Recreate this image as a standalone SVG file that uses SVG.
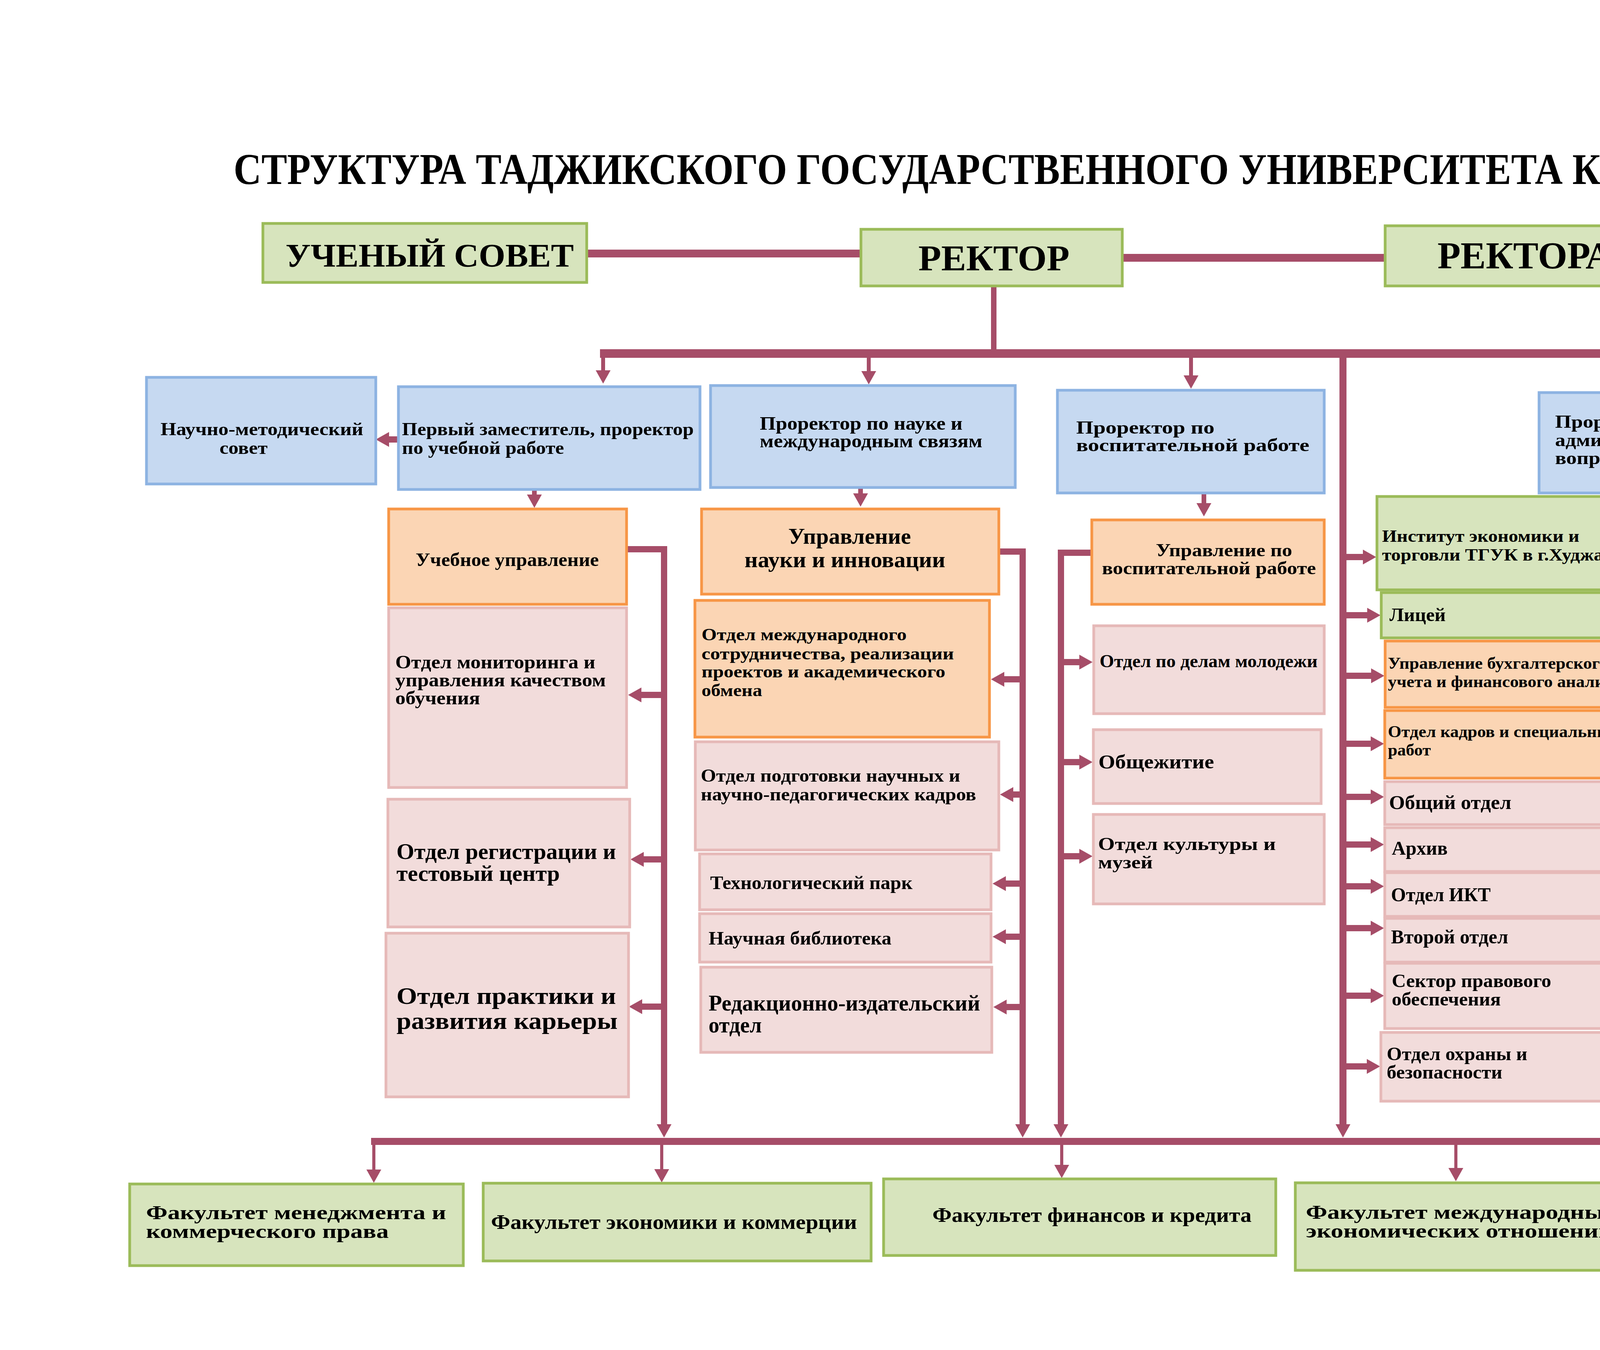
<svg xmlns="http://www.w3.org/2000/svg" width="5184" height="3456" viewBox="0 0 5184 3456">
<style>
.g{fill:#d7e4bd;stroke:#9bbb59;stroke-width:7}
.b{fill:#c6d9f1;stroke:#8db3e2;stroke-width:7}
.o{fill:#fbd5b4;stroke:#f79646;stroke-width:7}
.p{fill:#f2dcdb;stroke:#e6b9b8;stroke-width:7}
text{font-family:"Liberation Serif","Times New Roman",serif;font-weight:bold;fill:#000}
.c{stroke:#a64d68;fill:none}
.a{stroke:#a64d68;fill:none;marker-end:url(#h)}
</style>
<defs>
<marker id="h" markerUnits="userSpaceOnUse" viewBox="0 0 34 38" markerWidth="34" markerHeight="38" refX="0" refY="19" orient="auto"><path d="M0,0 L34,19 L0,38 z" fill="#a64d68"/></marker>
</defs>
<rect width="5184" height="3456" fill="#ffffff"/>
<text x="598" y="471" font-size="112" textLength="4115" lengthAdjust="spacingAndGlyphs">СТРУКТУРА ТАДЖИКСКОГО ГОСУДАРСТВЕННОГО УНИВЕРСИТЕТА КОММЕРЦИИ</text>

<g id="connectors">
<path class="c" stroke-width="20" d="M1502,649 H2204"/>
<path class="c" stroke-width="20" d="M2873,660 H3546"/>
<path class="c" stroke-width="14" d="M2544,732 V905"/>
<path class="c" stroke-width="22" d="M1536,905 H4434"/>
<path class="c" stroke-width="18" d="M950,2922 H4600"/>
<path class="a" stroke-width="10" d="M1544,905 V948"/>
<path class="a" stroke-width="10" d="M2224,905 V950"/>
<path class="a" stroke-width="10" d="M3049,905 V961"/>
<path class="a" stroke-width="10" d="M4427,905 V968"/>
<path class="a" stroke-width="18" d="M3438,905 V2878"/>
<path class="a" stroke-width="12" d="M1368,1253 V1266"/>
<path class="a" stroke-width="12" d="M2203,1248 V1263"/>
<path class="a" stroke-width="12" d="M3082,1262 V1288"/>
<path class="a" stroke-width="12" d="M4448,1262 V1292"/>
<path class="a" stroke-width="16" d="M1020,1125 H996"/>
<path class="a" stroke-width="16" d="M1604,1406 H1700 V2878"/>
<path class="a" stroke-width="16" d="M2557,1412 H2618 V2878"/>
<path class="a" stroke-width="16" d="M2795,1415 H2716 V2878"/>
<path class="a" stroke-width="16" d="M4330,1437 H4224 V2878"/>
<path class="a" stroke-width="16" d="M1700,1779 H1642"/>
<path class="a" stroke-width="16" d="M1700,2200 H1648"/>
<path class="a" stroke-width="16" d="M1700,2577 H1644"/>
<path class="a" stroke-width="16" d="M2618,1739 H2571"/>
<path class="a" stroke-width="16" d="M2618,2034 H2594"/>
<path class="a" stroke-width="16" d="M2618,2262 H2575"/>
<path class="a" stroke-width="16" d="M2618,2398 H2575"/>
<path class="a" stroke-width="16" d="M2618,2578 H2577"/>
<path class="a" stroke-width="16" d="M2716,1695 H2763"/>
<path class="a" stroke-width="16" d="M2716,1951 H2763"/>
<path class="a" stroke-width="16" d="M2716,2192 H2763"/>
<path class="a" stroke-width="16" d="M3438,1426 H3489"/>
<path class="a" stroke-width="16" d="M3438,1575 H3500"/>
<path class="a" stroke-width="16" d="M3438,1730 H3510"/>
<path class="a" stroke-width="16" d="M3438,1904 H3509"/>
<path class="a" stroke-width="16" d="M3438,2040 H3509"/>
<path class="a" stroke-width="16" d="M3438,2162 H3509"/>
<path class="a" stroke-width="16" d="M3438,2269 H3509"/>
<path class="a" stroke-width="16" d="M3438,2376 H3509"/>
<path class="a" stroke-width="16" d="M3438,2549 H3509"/>
<path class="a" stroke-width="16" d="M3438,2730 H3499"/>
<path class="a" stroke-width="16" d="M4224,1814 H4292"/>
<path class="a" stroke-width="16" d="M4224,2167 H4291"/>
<path class="a" stroke-width="8" d="M957,2922 V2994"/>
<path class="a" stroke-width="8" d="M1694,2922 V2993"/>
<path class="a" stroke-width="8" d="M2718,2922 V2982"/>
<path class="a" stroke-width="8" d="M3727,2922 V2990"/>
<path class="a" stroke-width="8" d="M4593,2922 V3005"/>
</g>

<g id="n-uchsovet"><rect class="g" x="673" y="572" width="829" height="151"/><text x="731" y="683" font-size="85" textLength="738" lengthAdjust="spacingAndGlyphs">УЧЕНЫЙ СОВЕТ</text></g>
<g id="n-rektor"><rect class="g" x="2204" y="587" width="669" height="145"/><text x="2351" y="692" font-size="94" textLength="387" lengthAdjust="spacingAndGlyphs">РЕКТОР</text></g>
<g id="n-rektorat"><rect class="g" x="3546" y="578" width="743" height="154"/><text x="3680" y="687" font-size="98" textLength="505" lengthAdjust="spacingAndGlyphs">РЕКТОРАТ</text></g>

<g id="n-nms"><rect class="b" x="375" y="966" width="587" height="273"/><text x="411" y="1114" font-size="46" textLength="519" lengthAdjust="spacingAndGlyphs">Научно-методический</text><text x="562" y="1162" font-size="46" textLength="123" lengthAdjust="spacingAndGlyphs">совет</text></g>
<g id="n-pz"><rect class="b" x="1020" y="990" width="772" height="263"/><text x="1029" y="1114" font-size="46" textLength="747" lengthAdjust="spacingAndGlyphs">Первый заместитель, проректор</text><text x="1029" y="1162" font-size="46" textLength="415" lengthAdjust="spacingAndGlyphs">по учебной работе</text></g>
<g id="n-pn"><rect class="b" x="1819" y="987" width="780" height="261"/><text x="1945" y="1100" font-size="48" textLength="519" lengthAdjust="spacingAndGlyphs">Проректор по науке и</text><text x="1945" y="1145" font-size="48" textLength="570" lengthAdjust="spacingAndGlyphs">международным связям</text></g>
<g id="n-pv"><rect class="b" x="2707" y="999" width="683" height="263"/><text x="2755" y="1110" font-size="46" textLength="354" lengthAdjust="spacingAndGlyphs">Проректор по</text><text x="2755" y="1155" font-size="46" textLength="597" lengthAdjust="spacingAndGlyphs">воспитательной работе</text></g>
<g id="n-pe"><rect class="b" x="3940" y="1005" width="904" height="257"/><text x="3981" y="1095" font-size="46" textLength="772" lengthAdjust="spacingAndGlyphs">Проректор по экономическим и</text><text x="3981" y="1142" font-size="46" textLength="823" lengthAdjust="spacingAndGlyphs">административно-хозяйственным</text><text x="3981" y="1188" font-size="46" textLength="230" lengthAdjust="spacingAndGlyphs">вопросам</text></g>

<g id="n-uchupr"><rect class="o" x="995" y="1303" width="609" height="244"/><text x="1064" y="1449" font-size="48" textLength="469" lengthAdjust="spacingAndGlyphs">Учебное управление</text></g>
<g id="n-monit"><rect class="p" x="995" y="1556" width="609" height="460"/><text x="1012" y="1711" font-size="48" textLength="512" lengthAdjust="spacingAndGlyphs">Отдел мониторинга и</text><text x="1012" y="1757" font-size="48" textLength="539" lengthAdjust="spacingAndGlyphs">управления качеством</text><text x="1012" y="1803" font-size="48" textLength="217" lengthAdjust="spacingAndGlyphs">обучения</text></g>
<g id="n-reg"><rect class="p" x="993" y="2046" width="619" height="327"/><text x="1015" y="2199" font-size="56" textLength="562" lengthAdjust="spacingAndGlyphs">Отдел регистрации и</text><text x="1015" y="2255" font-size="56" textLength="418" lengthAdjust="spacingAndGlyphs">тестовый центр</text></g>
<g id="n-prakt"><rect class="p" x="988" y="2389" width="621" height="419"/><text x="1015" y="2570" font-size="62" textLength="562" lengthAdjust="spacingAndGlyphs">Отдел практики и</text><text x="1015" y="2634" font-size="62" textLength="566" lengthAdjust="spacingAndGlyphs">развития карьеры</text></g>

<g id="n-upnauki"><rect class="o" x="1796" y="1303" width="761" height="218"/><text x="2018" y="1392" font-size="56" textLength="314" lengthAdjust="spacingAndGlyphs">Управление</text><text x="1906" y="1452" font-size="56" textLength="514" lengthAdjust="spacingAndGlyphs">науки и инновации</text></g>
<g id="n-mezhd"><rect class="o" x="1779" y="1537" width="754" height="350"/><text x="1796" y="1639" font-size="44" textLength="525" lengthAdjust="spacingAndGlyphs">Отдел международного</text><text x="1796" y="1688" font-size="44" textLength="646" lengthAdjust="spacingAndGlyphs">сотрудничества, реализации</text><text x="1796" y="1734" font-size="44" textLength="624" lengthAdjust="spacingAndGlyphs">проектов и академического</text><text x="1796" y="1782" font-size="44" textLength="155" lengthAdjust="spacingAndGlyphs">обмена</text></g>
<g id="n-podg"><rect class="p" x="1780" y="1899" width="777" height="277"/><text x="1794" y="2001" font-size="46" textLength="664" lengthAdjust="spacingAndGlyphs">Отдел подготовки научных и</text><text x="1794" y="2049" font-size="46" textLength="705" lengthAdjust="spacingAndGlyphs">научно-педагогических кадров</text></g>
<g id="n-tech"><rect class="p" x="1791" y="2186" width="746" height="143"/><text x="1818" y="2276" font-size="48" textLength="518" lengthAdjust="spacingAndGlyphs">Технологический парк</text></g>
<g id="n-bibl"><rect class="p" x="1791" y="2339" width="746" height="124"/><text x="1814" y="2418" font-size="48" textLength="468" lengthAdjust="spacingAndGlyphs">Научная библиотека</text></g>
<g id="n-red"><rect class="p" x="1794" y="2476" width="745" height="218"/><text x="1814" y="2587" font-size="56" textLength="695" lengthAdjust="spacingAndGlyphs">Редакционно-издательский</text><text x="1814" y="2643" font-size="56" textLength="136" lengthAdjust="spacingAndGlyphs">отдел</text></g>

<g id="n-upvosp"><rect class="o" x="2795" y="1331" width="595" height="216"/><text x="2959" y="1424" font-size="46" textLength="349" lengthAdjust="spacingAndGlyphs">Управление по</text><text x="2821" y="1470" font-size="46" textLength="548" lengthAdjust="spacingAndGlyphs">воспитательной работе</text></g>
<g id="n-molod"><rect class="p" x="2800" y="1602" width="590" height="225"/><text x="2815" y="1708" font-size="46" textLength="558" lengthAdjust="spacingAndGlyphs">Отдел по делам молодежи</text></g>
<g id="n-obshch"><rect class="p" x="2799" y="1868" width="583" height="189"/><text x="2812" y="1967" font-size="50" textLength="296" lengthAdjust="spacingAndGlyphs">Общежитие</text></g>
<g id="n-kult"><rect class="p" x="2799" y="2085" width="591" height="229"/><text x="2811" y="2176" font-size="46" textLength="455" lengthAdjust="spacingAndGlyphs">Отдел культуры и</text><text x="2811" y="2223" font-size="46" textLength="140" lengthAdjust="spacingAndGlyphs">музей</text></g>

<g id="n-inst"><rect class="g" x="3525" y="1271" width="676" height="239"/><text x="3538" y="1387" font-size="45" textLength="505" lengthAdjust="spacingAndGlyphs">Институт экономики и</text><text x="3538" y="1435" font-size="45" textLength="641" lengthAdjust="spacingAndGlyphs">торговли ТГУК в г.Худжанде</text></g>
<g id="n-licei"><rect class="g" x="3536" y="1517" width="620" height="116"/><text x="3557" y="1590" font-size="48" textLength="144" lengthAdjust="spacingAndGlyphs">Лицей</text></g>
<g id="n-buh"><rect class="o" x="3546" y="1641" width="610" height="170"/><text x="3553" y="1712" font-size="42" textLength="564" lengthAdjust="spacingAndGlyphs">Управление бухгалтерского</text><text x="3553" y="1759" font-size="42" textLength="596" lengthAdjust="spacingAndGlyphs">учета и финансового анализа</text></g>
<g id="n-kadr"><rect class="o" x="3545" y="1819" width="610" height="173"/><text x="3553" y="1887" font-size="42" textLength="592" lengthAdjust="spacingAndGlyphs">Отдел кадров и специальных</text><text x="3553" y="1934" font-size="42" textLength="110" lengthAdjust="spacingAndGlyphs">работ</text></g>
<g id="n-obotd"><rect class="p" x="3545" y="2001" width="610" height="110"/><text x="3556" y="2071" font-size="50" textLength="313" lengthAdjust="spacingAndGlyphs">Общий отдел</text></g>
<g id="n-arhiv"><rect class="p" x="3545" y="2119" width="610" height="112"/><text x="3563" y="2188" font-size="50" textLength="143" lengthAdjust="spacingAndGlyphs">Архив</text></g>
<g id="n-ikt"><rect class="p" x="3545" y="2234" width="610" height="112"/><text x="3561" y="2307" font-size="50" textLength="255" lengthAdjust="spacingAndGlyphs">Отдел ИКТ</text></g>
<g id="n-vtor"><rect class="p" x="3545" y="2351" width="610" height="112"/><text x="3561" y="2415" font-size="50" textLength="300" lengthAdjust="spacingAndGlyphs">Второй отдел</text></g>
<g id="n-prav"><rect class="p" x="3545" y="2466" width="612" height="167"/><text x="3563" y="2527" font-size="48" textLength="408" lengthAdjust="spacingAndGlyphs">Сектор правового</text><text x="3563" y="2574" font-size="48" textLength="279" lengthAdjust="spacingAndGlyphs">обеспечения</text></g>
<g id="n-ohr"><rect class="p" x="3535" y="2643" width="602" height="176"/><text x="3550" y="2714" font-size="48" textLength="360" lengthAdjust="spacingAndGlyphs">Отдел охраны и</text><text x="3550" y="2761" font-size="48" textLength="296" lengthAdjust="spacingAndGlyphs">безопасности</text></g>

<g id="n-hoz"><rect class="o" x="4330" y="1330" width="534" height="246"/><text x="4345" y="1449" font-size="40" textLength="494" lengthAdjust="spacingAndGlyphs">Хозяйственное управление</text></g>
<g id="n-kontr"><rect class="p" x="4328" y="1679" width="562" height="296"/><text x="4347" y="1825" font-size="48" textLength="390" lengthAdjust="spacingAndGlyphs">Сектор контроля</text><text x="4347" y="1887" font-size="48" textLength="530" lengthAdjust="spacingAndGlyphs">медпункта и санаторий</text></g>
<g id="n-obesp"><rect class="p" x="4327" y="2055" width="575" height="249"/><text x="4344" y="2178" font-size="48" textLength="431" lengthAdjust="spacingAndGlyphs">Сектор обеспечения</text></g>

<g id="n-f1"><rect class="g" x="332" y="3031" width="854" height="209"/><text x="374" y="3121" font-size="50" textLength="768" lengthAdjust="spacingAndGlyphs">Факультет менеджмента и</text><text x="374" y="3169" font-size="50" textLength="621" lengthAdjust="spacingAndGlyphs">коммерческого права</text></g>
<g id="n-f2"><rect class="g" x="1237" y="3029" width="993" height="199"/><text x="1257" y="3146" font-size="52" textLength="937" lengthAdjust="spacingAndGlyphs">Факультет экономики и коммерции</text></g>
<g id="n-f3"><rect class="g" x="2262" y="3018" width="1004" height="196"/><text x="2387" y="3128" font-size="52" textLength="817" lengthAdjust="spacingAndGlyphs">Факультет финансов и кредита</text></g>
<g id="n-f4"><rect class="g" x="3316" y="3028" width="857" height="224"/><text x="3343" y="3120" font-size="50" textLength="795" lengthAdjust="spacingAndGlyphs">Факультет международных</text><text x="3343" y="3168" font-size="50" textLength="786" lengthAdjust="spacingAndGlyphs">экономических отношений</text></g>
<g id="n-f5"><rect class="g" x="4239" y="3042" width="636" height="198"/><text x="4257" y="3125" font-size="50" textLength="589" lengthAdjust="spacingAndGlyphs">Общеуниверситетские</text><text x="4257" y="3173" font-size="50" textLength="229" lengthAdjust="spacingAndGlyphs">кафедры</text></g>
</svg>
